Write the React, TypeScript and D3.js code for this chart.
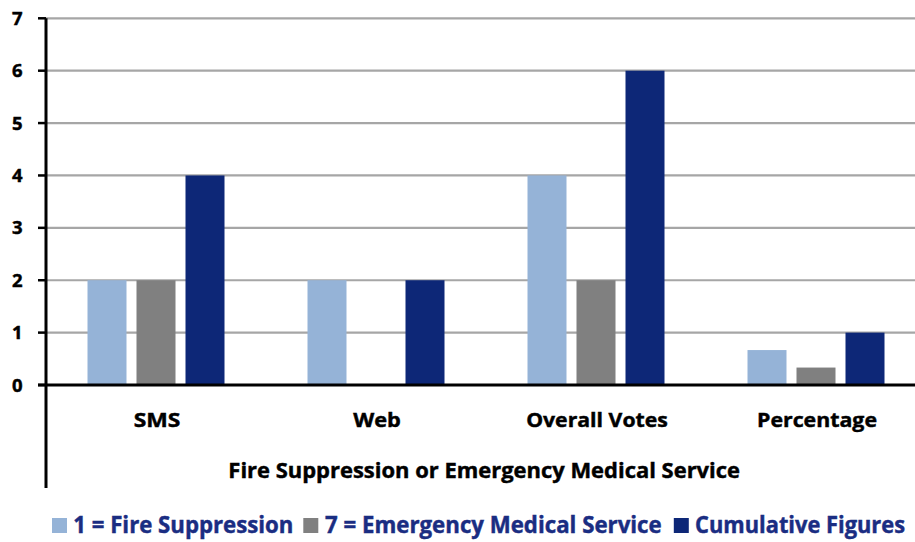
import React from "react";
import * as d3 from "d3";

const categories = ["SMS", "Web", "Overall Votes", "Percentage"];
const seriesNames = ["1 = Fire Suppression", "7 = Emergency Medical Service", "Cumulative Figures"];
const fireSuppression = [2, 2, 4, 0.667];
const emergencyMedical = [2, 0, 2, 0.333];
const cumulative = [4, 2, 6, 1];
const yTicks = [0, 1, 2, 3, 4, 5, 6, 7];
const axisTitle = "Fire Suppression or Emergency Medical Service";

const colors = ["#95B3D7", "#808080", "#0D2777"];
const textBlue = "#1A2D82";
const font = "'Open Sans', sans-serif";

const catWidths = [46.7, 47.6, 141.7, 120];
const legendWidths = [220, 336.7, 210];

export default function App() {
  const W = 915, H = 542;
  const left = 46, right = 926, top = 18.3, bottom = 385;
  const series = [fireSuppression, emergencyMedical, cumulative];
  const x = d3.scaleBand<string>().domain(categories).range([left, right]).paddingInner(0).paddingOuter(0);
  const y = d3.scaleLinear().domain([0, 7]).range([bottom, top]);
  const barW = 39, gap = 10;
  const groupW = barW * 3 + gap * 2;

  const legendItems = [
    { sx: 52, tx: 73.3 },
    { sx: 303.3, tx: 325 },
    { sx: 673.8, tx: 695 },
  ];

  const heavy = { strokeWidth: 0.45, paintOrder: "stroke" as const };

  return (
    <svg width={W} height={H} style={{ position: "absolute", left: 0, top: 0, background: "#fff" }}>
      {yTicks.slice(1).map((t) => (
        <line key={"g" + t} x1={left} x2={right} y1={y(t)} y2={y(t)} stroke="#A6A6A6" strokeWidth={2.2} />
      ))}
      {categories.map((c, i) => {
        const x0 = (x(c) as number) + (x.bandwidth() - groupW) / 2;
        return series.map((s, j) =>
          s[i] > 0 ? (
            <rect key={c + j} x={x0 + j * (barW + gap)} y={y(s[i])} width={barW} height={y(0) - y(s[i])} fill={colors[j]} />
          ) : null
        );
      })}
      {/* axes */}
      <line x1={left} x2={left} y1={top} y2={488} stroke="#000" strokeWidth={3} />
      <line x1={38} x2={right} y1={y(0)} y2={y(0)} stroke="#000" strokeWidth={3} />
      {yTicks.map((t) => (
        <g key={"t" + t}>
          <line x1={38} x2={left} y1={y(t)} y2={y(t)} stroke="#000" strokeWidth={2.5} />
          <text x={22.5} y={y(t) + 6.5} textAnchor="end" fontFamily={font} fontWeight={700} fontSize={18.5} fill="#000" stroke="#000" {...heavy}>
            {t}
          </text>
        </g>
      ))}
      {categories.map((c, i) => (
        <text
          key={"c" + c}
          x={(x(c) as number) + x.bandwidth() / 2 + 1}
          y={427.3}
          textAnchor="middle"
          fontFamily={font}
          fontWeight={700}
          fontSize={20}
          fill="#000"
          stroke="#000"
          {...heavy}
          textLength={catWidths[i]}
          lengthAdjust="spacingAndGlyphs"
        >
          {c}
        </text>
      ))}
      <text
        x={484.2}
        y={478.3}
        textAnchor="middle"
        fontFamily={font}
        fontWeight={700}
        fontSize={22}
        fill="#000"
        stroke="#000"
        {...heavy}
        textLength={511.7}
        lengthAdjust="spacingAndGlyphs"
      >
        {axisTitle}
      </text>
      {seriesNames.map((n, i) => (
        <g key={"l" + i}>
          <rect x={legendItems[i].sx} y={518} width={15} height={15} fill={colors[i]} />
          <text
            x={legendItems[i].tx}
            y={532.5}
            fontFamily={font}
            fontWeight={700}
            fontSize={22.5}
            fill={textBlue}
            stroke={textBlue}
            {...heavy}
            textLength={legendWidths[i]}
            lengthAdjust="spacingAndGlyphs"
          >
            {n}
          </text>
        </g>
      ))}
    </svg>
  );
}
